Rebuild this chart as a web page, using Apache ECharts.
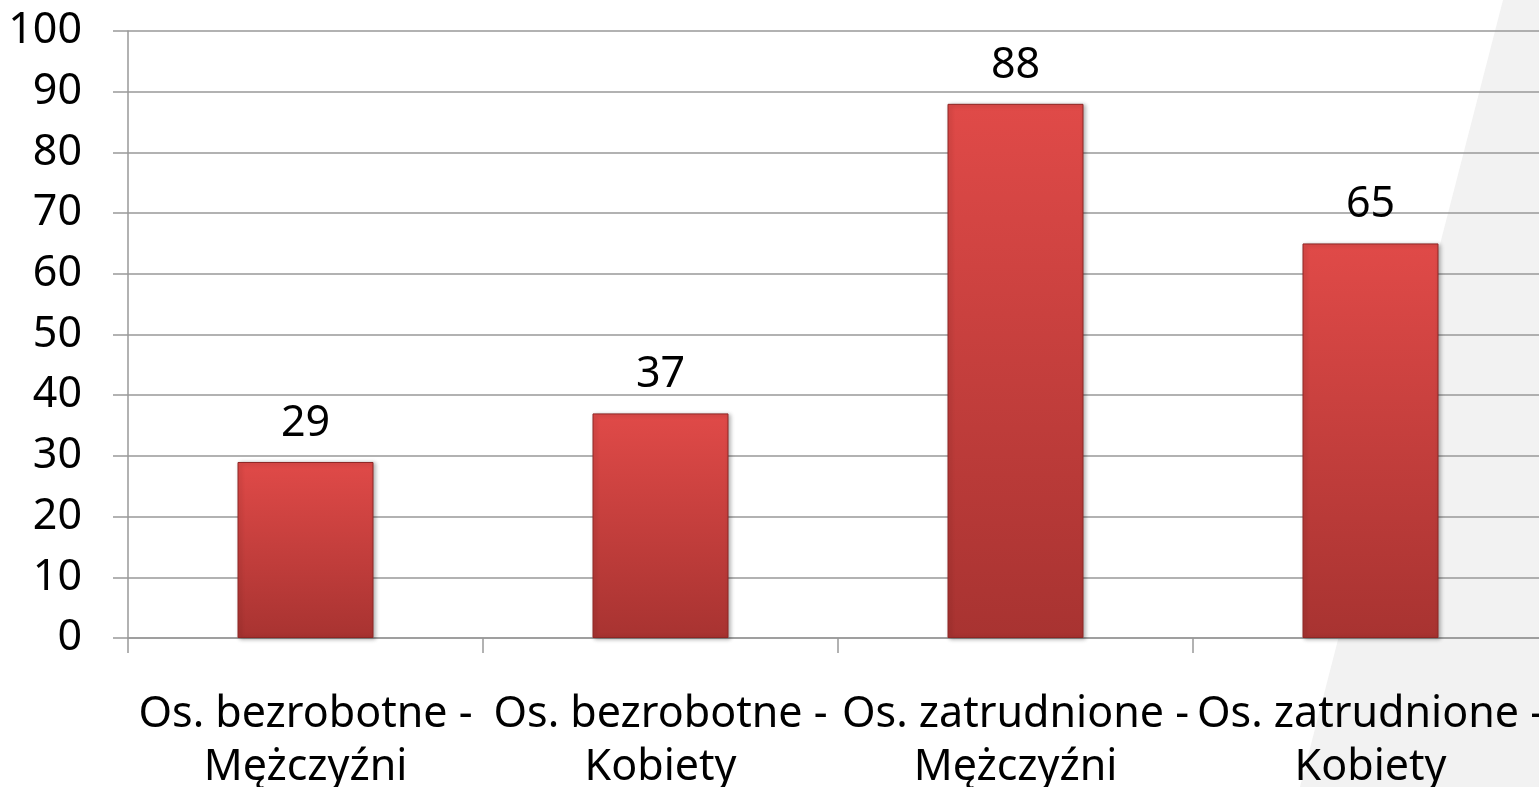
<!DOCTYPE html>
<html>
<head>
<meta charset="utf-8">
<script src="https://cdn.jsdelivr.net/npm/echarts@6/dist/echarts.min.js"></script>
<style>
	html, body { margin: 0; padding: 0; background: #fff; }
	#main { width: 1539px; height: 787px; }
</style>
</head>
<body>
<div id="main"></div>
<script>
// dane wykresu
var categories = [
	'Os. bezrobotne -\nMężczyźni',
	'Os. bezrobotne -\nKobiety',
	'Os. zatrudnione -\nMężczyźni',
	'Os. zatrudnione -\nKobiety'
];
var values = [29, 37, 88, 65];

var fontName = '"Noto Sans", sans-serif';

var myChart = echarts.init(document.getElementById('main'));

var option = {
	backgroundColor: '#ffffff',
	animation: false,
	graphic: {
		elements: [{
			type: 'polygon',
			z: -10,
			silent: true,
			shape: { points: [[1503, 0], [1539, 0], [1539, 787], [1300, 787]] },
			style: { fill: '#f2f2f2' }
		}]
	},
	grid: {
		left: 128,
		top: 31,
		width: 1420,
		height: 607,
		outerBoundsMode: 'none'
	},
	xAxis: {
		type: 'category',
		data: categories,
		axisLine: { lineStyle: { color: '#999', width: 1.5 } },
		axisTick: { show: true, length: 15, lineStyle: { color: '#999', width: 1.5 } },
		axisLabel: {
			interval: 0,
			margin: 50,
			color: '#000',
			fontFamily: fontName,
			fontSize: 43,
			lineHeight: 53
		}
	},
	yAxis: {
		type: 'value',
		min: 0,
		max: 100,
		interval: 10,
		axisLine: { show: true, lineStyle: { color: '#999', width: 1.5 } },
		axisTick: { show: true, length: 15, lineStyle: { color: '#999', width: 1.5 } },
		splitLine: { lineStyle: { color: '#999', width: 1.5 } },
		axisLabel: {
			margin: 46,
			color: '#000',
			fontFamily: fontName,
			fontSize: 43
		}
	},
	series: [{
		type: 'bar',
		data: values,
		barWidth: 136,
		itemStyle: {
			color: new echarts.graphic.LinearGradient(0, 0, 0, 1, [
				{ offset: 0, color: '#e04a48' },
				{ offset: 1, color: '#a83331' }
			]),
			borderColor: '#8e2624',
			borderWidth: 1,
			shadowColor: 'rgba(0,0,0,0.3)',
			shadowBlur: 4,
			shadowOffsetX: 2,
			shadowOffsetY: 1
		},
		label: {
			show: true,
			position: 'top',
			distance: 17,
			color: '#000',
			fontFamily: fontName,
			fontSize: 43
		}
	}]
};

myChart.setOption(option);
</script>
</body>
</html>
